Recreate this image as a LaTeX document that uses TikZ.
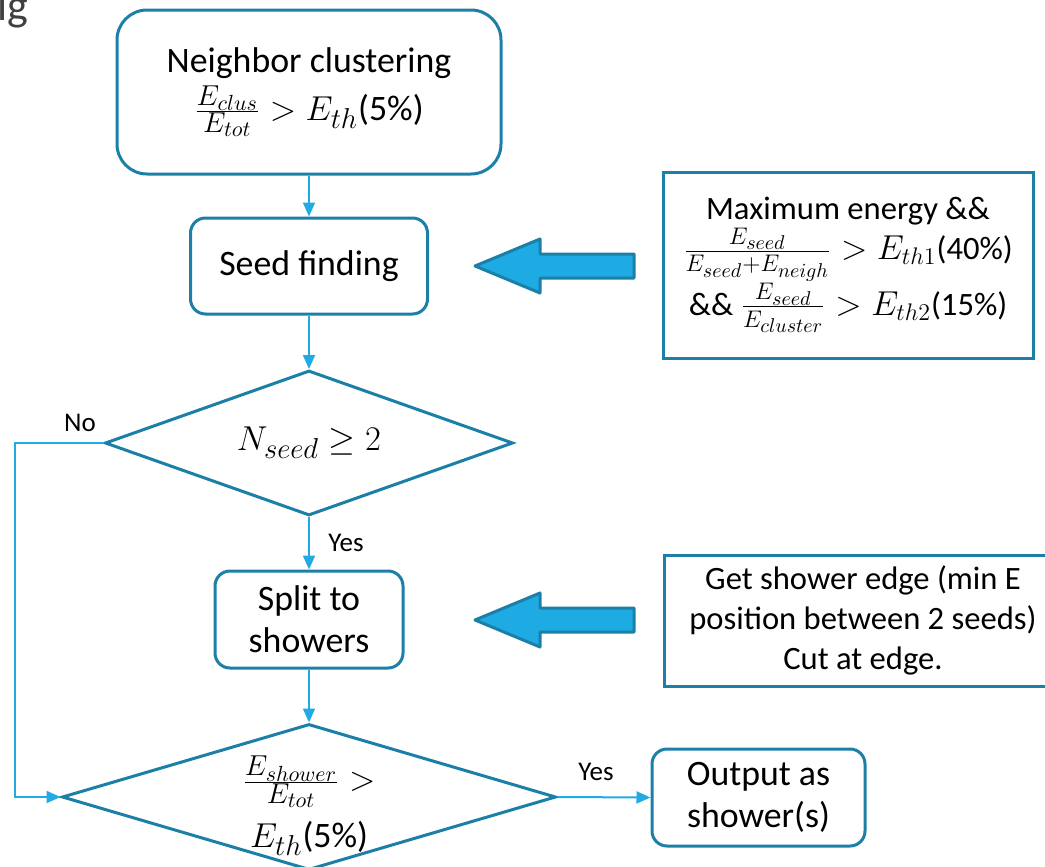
\documentclass[tikz,border=0pt]{standalone}
\usepackage{fontspec}
\setmainfont{Carlito}
\usetikzlibrary{shapes.geometric,arrows.meta}
\DeclareMathSizes{17.9}{17.9}{13.5}{11}
\DeclareMathSizes{16.3}{16.3}{12.5}{10}

\definecolor{boxline}{HTML}{1B7FA7}
\definecolor{linkline}{HTML}{22AAE2}
\definecolor{bigarrow}{HTML}{1EAAE2}
\definecolor{titlegray}{HTML}{404040}

\begin{document}
\begin{tikzpicture}[x=0.5pt, y=-0.5pt,
  stepbox/.style={draw=boxline, line width=1.5pt, rounded corners=7.5pt, align=center, inner sep=0pt, font=\fontsize{17.9}{21}\selectfont},
  decision/.style={draw=boxline, line width=1.5pt, diamond, inner sep=0pt, align=center, font=\fontsize{17.9}{21}\selectfont},
  notebox/.style={draw=boxline, line width=1.5pt, align=center, inner sep=0pt, font=\fontsize{16.3}{20}\selectfont},
  link/.style={draw=linkline, line width=1pt, -{Triangle[width=6pt,length=7pt]}},
  answer/.style={font=\fontsize{13.5}{16}\selectfont},
  fatarrow/.style={draw=boxline, fill=bigarrow, line width=1.5pt, line join=round}]

\useasboundingbox (0,0) rectangle (1045,867);

\node [anchor=base west, text=titlegray, inner sep=0pt, font=\fontsize{22}{26}\selectfont] (title) at (-3,20) {ig};

\node [stepbox, rounded corners=15pt, minimum width=192pt, minimum height=82pt] (clus) at (309,92)
  {Neighbor clustering\\[3pt] $\frac{E_{clus}}{E_{tot}} > E_{th}$(5\%)};
\node [stepbox, minimum width=118.5pt, minimum height=48pt] (seed) at (309,266) {Seed finding};
\node [decision, aspect=2.8, minimum width=204pt, minimum height=72.5pt] (nseed) at (309,443) {$N_{seed} \geq 2$};
\node [stepbox, minimum width=94pt, minimum height=48.5pt] (split) at (309,619.5) {Split to\\showers};
\node [decision, aspect=3.4, minimum width=247pt, minimum height=73pt] (eshower) at (309,797) {};
\node [align=center, inner sep=0pt, font=\fontsize{17.9}{21}\selectfont] (eshowertext) at (309,806)
  {$\frac{E_{shower}}{E_{tot}} >$\\[6pt] $E_{th}$(5\%)};
\node [stepbox, minimum width=106.5pt, minimum height=48.5pt] (output) at (758.5,797.5) {Output as\\shower(s)};

\node [notebox, minimum width=185pt, minimum height=93pt] (seedcut) at (848,265)
  {Maximum energy \&\&\\ $\frac{E_{seed}}{E_{seed}+E_{neigh}} > E_{th1}$(40\%)\\ \&\& $\frac{E_{seed}}{E_{cluster}} > E_{th2}$(15\%)};
\node [notebox, minimum width=199pt, minimum height=65.5pt] (edgecut) at (863,620.5)
  {Get shower edge (min E\\position between 2 seeds)\\Cut at edge.};

\draw [fatarrow] (634,254)--(540,254)--(540,239)--(475,266)--(540,293)--(540,278)--(634,278)--cycle;
\draw [fatarrow] (634,608)--(540,608)--(540,593)--(475,620)--(540,647)--(540,632)--(634,632)--cycle;

\coordinate (bypass) at (15,797);

\draw [link] (clus.south)--(seed.north);
\draw [link] (seed.south)--(nseed.north);
\draw [link] (nseed.south)--(split.north);
\draw [link] (split.south)--(eshower.north);
\draw [link] (nseed.west) -| (bypass)--(eshower.west);
\draw [link] (eshower.east)--(output.west);

\node [answer] (no) at (80,423) {No};
\node [answer] (yes1) at (346,543) {Yes};
\node [answer] (yes2) at (596,772) {Yes};

\end{tikzpicture}
\end{document}
